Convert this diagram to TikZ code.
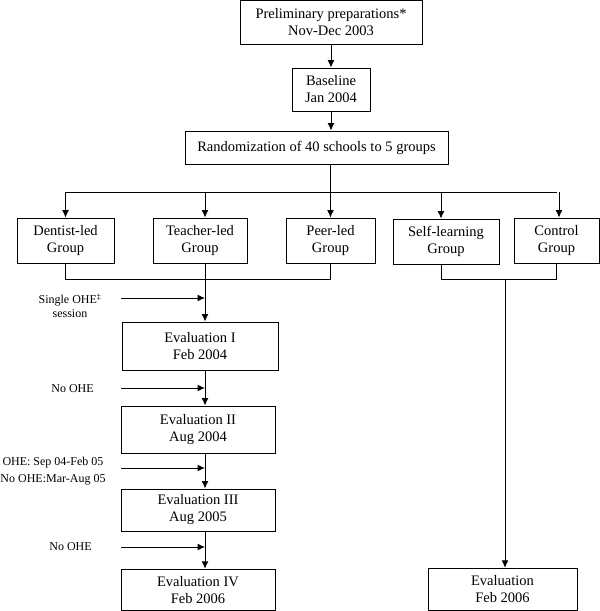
\documentclass[tikz,border=0pt]{standalone}
\usepackage{fontspec}
\setmainfont{Liberation Serif}
\usetikzlibrary{arrows.meta}
\begin{document}
\begin{tikzpicture}[x=1pt,y=1pt,
  box/.style={draw,line width=1pt,inner sep=0pt,align=center,font=\fontsize{14.5}{17}\selectfont},
  side/.style={inner sep=0pt,align=center,font=\fontsize{12}{14}\selectfont},
  conn/.style={line width=1pt},
  arr/.style={line width=1pt,-{Latex[length=7.5pt,width=7pt]}}]
\useasboundingbox (0,0) rectangle (600,-611);
% top chain
\node[box,minimum width=182,minimum height=43.5] (prelim) at (331,-22.25) {Preliminary preparations*\\Nov-Dec 2003};
\node[box,minimum width=78,minimum height=43] (base) at (331,-89.5) {Baseline\\Jan 2004};
\node[box,minimum width=263,minimum height=33] (rand) at (316.5,-147.5) {Randomization of 40 schools to 5 groups};
% groups
\node[box,minimum width=97,minimum height=45] (dent) at (65.5,-240.5) {Dentist-led\\Group};
\node[box,minimum width=94,minimum height=45] (teach) at (200,-240.5) {Teacher-led\\Group};
\node[box,minimum width=89,minimum height=45] (peer) at (330.5,-240.5) {Peer-led\\Group};
\node[box,minimum width=106,minimum height=45] (self) at (446,-241.5) {Self-learning\\Group};
\node[box,minimum width=85,minimum height=45] (ctrl) at (556.5,-240.5) {Control\\Group};
% evaluations
\node[box,minimum width=156,minimum height=48] (ev1) at (200,-346) {Evaluation I\\Feb 2004};
\node[box,minimum width=154,minimum height=47] (ev2) at (198,-429.5) {Evaluation II\\Aug 2004};
\node[box,minimum width=154,minimum height=42] (ev3) at (198,-510) {Evaluation III\\Aug 2005};
\node[box,minimum width=154,minimum height=41] (ev4) at (198,-589.75) {Evaluation IV\\Feb 2006};
\node[box,minimum width=149,minimum height=42] (evc) at (502.5,-589.25) {Evaluation\\Feb 2006};
% side labels
\node[side] (s1) at (70,-306) {Single OHE\textsuperscript{\ddag}\\session};
\node[side] (s2) at (72.5,-389) {No OHE};
\node[side,font=\fontsize{12}{17}\selectfont] (s3) at (53,-471.5) {OHE: Sep 04-Feb 05\\No OHE:Mar-Aug 05};
\node[side] (s4) at (70.5,-547) {No OHE};
% coordinates
\coordinate (bus) at (0,-192);
\coordinate (jl) at (0,-279);
\coordinate (tx) at (205,0);
\coordinate (rx) at (505,0);
% connectors top
\draw[arr] (prelim) -- (base);
\draw[arr] (base) -- (base.south |- rand.north);
\draw[conn] (rand.south -| peer.north) -- (bus -| peer.north);
\draw[conn] (bus -| dent.north) -- (bus -| ctrl.north);
\draw[arr] (bus -| dent.north) -- (dent.north);
\draw[arr] (bus -| tx) -- (teach.north -| tx);
\draw[arr] (bus -| peer.north) -- (peer.north);
\draw[arr] ([xshift=-5pt]bus -| self.north) -- ([xshift=-5pt]self.north);
\draw[arr] ([xshift=2.5pt]bus -| ctrl.north) -- ([xshift=2.5pt]ctrl.north);
% bottom left junction
\draw[conn] (dent.south) |- (jl -| peer.south) -- (peer.south);
\draw[arr] (teach.south -| tx) -- (ev1.north -| tx);
% right junction
\draw[conn] ([xshift=-5pt]self.south) |- (jl -| ctrl.south) -- (ctrl.south);
\draw[arr] (jl -| rx) -- (evc.north -| rx);
% eval chain
\draw[arr] (ev1.south -| tx) -- (ev2.north -| tx);
\draw[arr] (ev2.south -| tx) -- (ev3.north -| tx);
\draw[arr] (ev3.south -| tx) -- (ev4.north -| tx);
% side arrows
\draw[arr] (121,-298) coordinate (a1) -- (a1 -| tx);
\draw[arr] (121,-388) coordinate (a2) -- (a2 -| tx);
\draw[arr] (121,-468) coordinate (a3) -- (a3 -| tx);
\draw[arr] (121,-547) coordinate (a4) -- (a4 -| tx);
\end{tikzpicture}
\end{document}
